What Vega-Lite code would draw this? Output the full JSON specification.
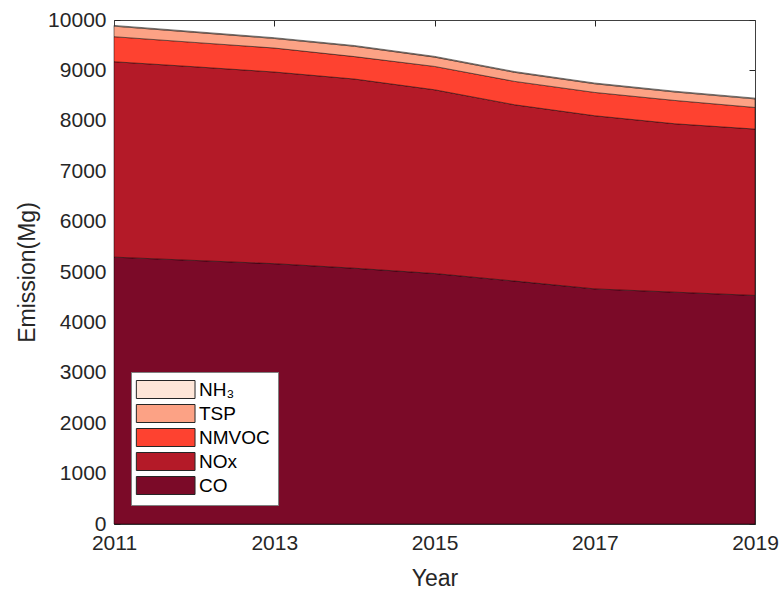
{
  "$schema": "https://vega.github.io/schema/vega-lite/v6.json",
  "width": 641,
  "height": 504,
  "autosize": "none",
  "padding": {"left": 114, "top": 20, "right": 26, "bottom": 65},
  "background": "white",
  "config": {
    "view": {"stroke": null},
    "font": "Liberation Sans",
    "axis": {
      "grid": false,
      "zindex": 1,
      "domainColor": "#404040",
      "domainWidth": 1,
      "tickColor": "#262626",
      "tickSize": -6,
      "tickWidth": 1,
      "labelColor": "#262626",
      "labelFont": "Liberation Sans",
      "labelFontSize": 21,
      "labelFlush": false,
      "labelOverlap": false,
      "titleColor": "#262626",
      "titleFont": "Liberation Sans",
      "titleFontSize": 23,
      "titleFontWeight": "normal"
    }
  },
  "datasets": {
    "emissions": [
      {"year": 2011, "pollutant": "CO", "value": 5295},
      {"year": 2012, "pollutant": "CO", "value": 5230},
      {"year": 2013, "pollutant": "CO", "value": 5165},
      {"year": 2014, "pollutant": "CO", "value": 5075},
      {"year": 2015, "pollutant": "CO", "value": 4970},
      {"year": 2016, "pollutant": "CO", "value": 4820},
      {"year": 2017, "pollutant": "CO", "value": 4665},
      {"year": 2018, "pollutant": "CO", "value": 4600},
      {"year": 2019, "pollutant": "CO", "value": 4535},
      {"year": 2011, "pollutant": "NOx", "value": 3877},
      {"year": 2012, "pollutant": "NOx", "value": 3843},
      {"year": 2013, "pollutant": "NOx", "value": 3803},
      {"year": 2014, "pollutant": "NOx", "value": 3754},
      {"year": 2015, "pollutant": "NOx", "value": 3646},
      {"year": 2016, "pollutant": "NOx", "value": 3498},
      {"year": 2017, "pollutant": "NOx", "value": 3435},
      {"year": 2018, "pollutant": "NOx", "value": 3341},
      {"year": 2019, "pollutant": "NOx", "value": 3301},
      {"year": 2011, "pollutant": "NMVOC", "value": 497},
      {"year": 2012, "pollutant": "NMVOC", "value": 483},
      {"year": 2013, "pollutant": "NMVOC", "value": 476},
      {"year": 2014, "pollutant": "NMVOC", "value": 445},
      {"year": 2015, "pollutant": "NMVOC", "value": 463},
      {"year": 2016, "pollutant": "NMVOC", "value": 464},
      {"year": 2017, "pollutant": "NMVOC", "value": 463},
      {"year": 2018, "pollutant": "NMVOC", "value": 463},
      {"year": 2019, "pollutant": "NMVOC", "value": 429},
      {"year": 2011, "pollutant": "TSP", "value": 209},
      {"year": 2012, "pollutant": "TSP", "value": 200},
      {"year": 2013, "pollutant": "TSP", "value": 190},
      {"year": 2014, "pollutant": "TSP", "value": 205},
      {"year": 2015, "pollutant": "TSP", "value": 185},
      {"year": 2016, "pollutant": "TSP", "value": 180},
      {"year": 2017, "pollutant": "TSP", "value": 172},
      {"year": 2018, "pollutant": "TSP", "value": 168},
      {"year": 2019, "pollutant": "TSP", "value": 170},
      {"year": 2011, "pollutant": "NH₃", "value": 15},
      {"year": 2012, "pollutant": "NH₃", "value": 15},
      {"year": 2013, "pollutant": "NH₃", "value": 15},
      {"year": 2014, "pollutant": "NH₃", "value": 15},
      {"year": 2015, "pollutant": "NH₃", "value": 15},
      {"year": 2016, "pollutant": "NH₃", "value": 15},
      {"year": 2017, "pollutant": "NH₃", "value": 15},
      {"year": 2018, "pollutant": "NH₃", "value": 15},
      {"year": 2019, "pollutant": "NH₃", "value": 15}
    ]
  },
  "data": {"name": "emissions"},
  "transform": [
    {"calculate": "indexof(['CO', 'NOx', 'NMVOC', 'TSP', 'NH₃'], datum.pollutant)", "as": "layer"}
  ],
  "layer": [
    {
      "mark": {"type": "area", "stroke": "#000000", "strokeWidth": 0.6, "strokeOpacity": 0.8, "opacity": 1},
      "encoding": {
        "x": {
          "field": "year",
          "type": "quantitative",
          "scale": {"domain": [2011, 2019], "nice": false, "zero": false},
          "axis": {"values": [2011, 2013, 2015, 2017, 2019], "format": "d", "title": "Year", "labelPadding": 14, "titlePadding": 14}
        },
        "y": {
          "field": "value",
          "type": "quantitative",
          "aggregate": "sum",
          "stack": "zero",
          "scale": {"domain": [0, 10000], "nice": false},
          "axis": {"values": [0, 1000, 2000, 3000, 4000, 5000, 6000, 7000, 8000, 9000, 10000], "format": "d", "title": "Emission(Mg)", "labelPadding": 14, "titlePadding": 8}
        },
        "color": {
          "field": "pollutant",
          "type": "nominal",
          "scale": {
            "domain": ["NH₃", "TSP", "NMVOC", "NOx", "CO"],
            "range": ["#fee6d8", "#fca285", "#fe4230", "#b41a28", "#7b0a28"]
          },
          "legend": {
            "title": null,
            "orient": "none",
            "legendX": 17,
            "legendY": 352,
            "direction": "vertical",
            "fillColor": "white",
            "strokeColor": "#808080",
            "padding": 8,
            "rowPadding": 1,
            "symbolType": "M-1.35,-1H5.17V1H-1.35Z",
            "symbolSize": 324,
            "symbolStrokeColor": "#262626",
            "symbolStrokeWidth": 1,
            "symbolOpacity": 1,
            "labelFont": "Liberation Sans",
            "labelFontSize": 19,
            "labelColor": "#000000",
            "labelOffset": 41
          }
        },
        "order": {"field": "layer", "type": "quantitative", "sort": "ascending"}
      }
    },
    {
      "mark": {"type": "point", "opacity": 0},
      "encoding": {
        "x": {
          "field": "year",
          "type": "quantitative",
          "scale": {"domain": [2011, 2019], "nice": false, "zero": false},
          "axis": {"orient": "top", "values": [2011, 2013, 2015, 2017, 2019], "labels": false, "title": null}
        },
        "y": {
          "field": "value",
          "type": "quantitative",
          "scale": {"domain": [0, 10000], "nice": false},
          "axis": {"orient": "right", "values": [0, 1000, 2000, 3000, 4000, 5000, 6000, 7000, 8000, 9000, 10000], "labels": false, "title": null}
        }
      }
    }
  ],
  "resolve": {"axis": {"x": "independent", "y": "independent"}}
}
